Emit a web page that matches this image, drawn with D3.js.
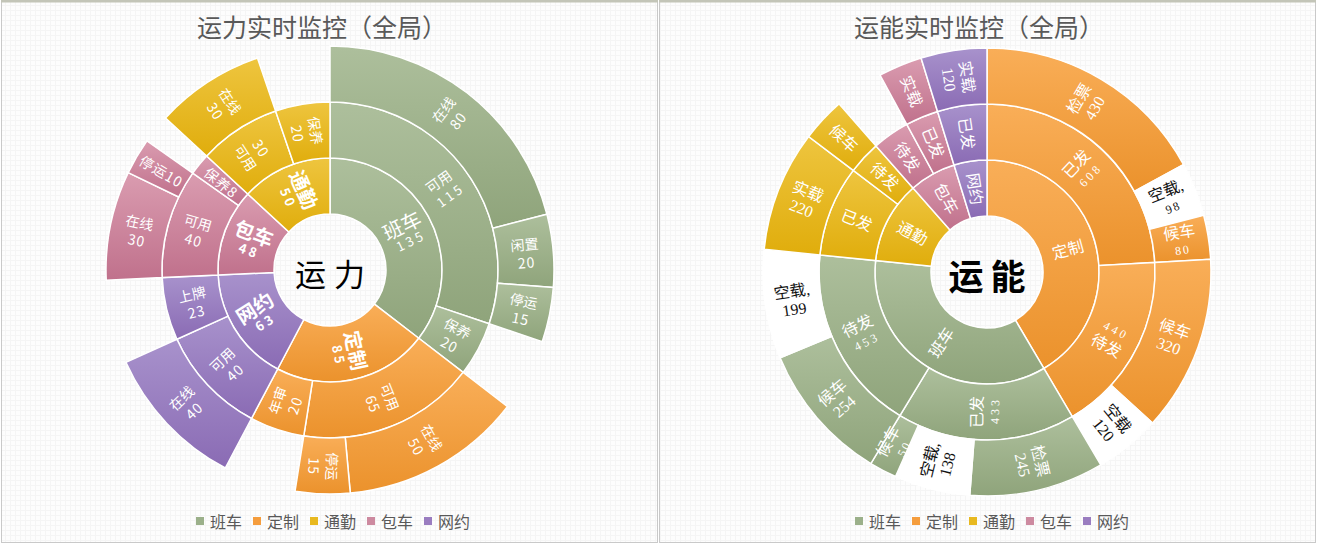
<!DOCTYPE html>
<html>
<head>
<meta charset="utf-8">
<script src="https://cdn.jsdelivr.net/npm/d3@7"></script>
<style>
  body { margin: 0; background: #fff; }
  svg { display: block; }
</style>
</head>
<body>
<div id="chart"></div>
<script>
(function () {

  // legend categories (same for both charts)
  var categories = ["班车", "定制", "通勤", "包车", "网约"];

  // left chart: 运力 - node paths, values and the label text shown on each piece
  var powerIds = [
    "班车", "班车/可用", "班车/可用/在线", "班车/可用/闲置", "班车/可用/停运", "班车/保养",
    "定制", "定制/可用", "定制/可用/在线", "定制/可用/停运", "定制/年审",
    "网约", "网约/可用", "网约/可用/在线", "网约/上牌",
    "包车", "包车/可用", "包车/可用/在线", "包车/可用/停运", "包车/保养",
    "通勤", "通勤/可用", "通勤/可用/在线", "通勤/保养"
  ];
  var powerValues = [
    135, 115, 80, 20, 15, 20,
    85, 65, 50, 15, 20,
    63, 40, 40, 23,
    48, 40, 30, 10, 8,
    50, 30, 30, 20
  ];
  var powerLabels = [
    "班车|135", "可用|115", "在线|80", "闲置|20", "停运|15", "保养|20",
    "定制|85", "可用|65", "在线|50", "停运|15", "年审|20",
    "网约|63", "可用|40", "在线|40", "上牌|23",
    "包车|48", "可用|40", "在线|30", "停运10", "保养8",
    "通勤|50", "30|可用", "在线|30", "保养|20"
  ];

  // right chart: 运能
  var capIds = [
    "定制", "定制/已发", "定制/已发/检票", "定制/已发/空载", "定制/已发/候车",
    "定制/待发", "定制/待发/候车", "定制/待发/空载",
    "班车", "班车/已发", "班车/已发/检票", "班车/已发/空载", "班车/已发/候车",
    "班车/待发", "班车/待发/候车", "班车/待发/空载",
    "通勤", "通勤/已发", "通勤/已发/实载", "通勤/待发", "通勤/待发/候车",
    "包车", "包车/待发", "包车/已发", "包车/已发/实载",
    "网约", "网约/已发", "网约/已发/实载"
  ];
  var capValues = [
    1048, 608, 430, 98, 80,
    440, 320, 120,
    886, 433, 245, 138, 50,
    453, 254, 199,
    300, 220, 220, 80, 80,
    170, 90, 80, 80,
    120, 120, 120
  ];
  var capLabels = [
    "定制", "已发|608", "检票|430", "空载,|98", "候车|80",
    "440|待发", "候车|320", "空载|120",
    "班车", "已发|433", "检票|245", "空载,|138", "候车|50",
    "待发|453", "候车|254", "空载,|199",
    "通勤", "已发", "实载|220", "待发", "候车",
    "包车", "待发", "已发", "实载",
    "网约", "已发", "实载|120"
  ];

  // excel like gradient colours per category (light top, dark bottom, legend)
  var palette = {
    "班车": ["#adbf9c", "#8fa47b", "#9bb08a"],
    "定制": ["#f9ae58", "#eb922c", "#f59d3d"],
    "通勤": ["#eec53f", "#e0ad0c", "#e8b920"],
    "包车": ["#da9cb0", "#c0718c", "#cd8aa0"],
    "网约": ["#a892cc", "#8a6bb4", "#9a7dc0"]
  };

  var w = 1334, h = 546,
    radii = [56, 112, 168, 224],
    svg, defs;

  function createSvg() {
    svg = d3.select("#chart").append("svg")
      .attr("width", w)
      .attr("height", h);
    defs = svg.append("defs");

    // faint grid texture of the excel sheet background
    var pat = defs.append("pattern")
      .attr("id", "grid")
      .attr("width", 5).attr("height", 5)
      .attr("patternUnits", "userSpaceOnUse");
    pat.append("rect").attr("width", 5).attr("height", 5).attr("fill", "#fdfdfd");
    pat.append("path").attr("d", "M0 0.5H5M0.5 0V5")
      .attr("stroke", "#f5f5f5").attr("stroke-width", 1);

    categories.forEach(function (c, i) {
      var g = defs.append("linearGradient")
        .attr("id", "grad" + i)
        .attr("x1", 0).attr("y1", 0).attr("x2", 0).attr("y2", 1);
      g.append("stop").attr("offset", "0%").attr("stop-color", palette[c][0]);
      g.append("stop").attr("offset", "100%").attr("stop-color", palette[c][1]);
    });
  }

  function drawPanel(x0, x1) {
    svg.append("rect")
      .attr("x", x0 + 0.5).attr("y", 1.5)
      .attr("width", x1 - x0).attr("height", 541)
      .attr("fill", "url(#grid)")
      .attr("stroke", "#c9c9c9");
    svg.append("rect")
      .attr("x", x0).attr("y", 0)
      .attr("width", x1 - x0 + 1).attr("height", 2.5)
      .attr("fill", "#c3c5b8");
  }

  function buildTree(ids, values, labels) {
    var rows = ids.map(function (id, i) {
      return { id: id, value: values[i], label: labels[i] };
    });
    rows.unshift({ id: "root", value: 0, label: "" });
    var root = d3.stratify()
      .id(function (d) { return d.id; })
      .parentId(function (d) {
        if (d.id === "root") return null;
        var k = d.id.lastIndexOf("/");
        return k < 0 ? "root" : d.id.slice(0, k);
      })(rows);
    // values are given per node, so take them as they are
    root.each(function (n) { n.value = n.data.value; });
    root.value = d3.sum(root.children, function (c) { return c.value; });
    d3.partition().size([2 * Math.PI, 3])(root);
    return root;
  }

  function topName(n) {
    return n.ancestors().reverse()[1].data.id;
  }

  function drawSunburst(o) {
    var root = buildTree(o.ids, o.values, o.labels);
    var nodes = root.descendants().filter(function (d) { return d.depth > 0; });
    var g = svg.append("g").attr("transform", "translate(" + o.cx + "," + o.cy + ")");

    var arc = d3.arc()
      .startAngle(function (d) { return d.x0; })
      .endAngle(function (d) { return d.x1; })
      .innerRadius(function (d) { return radii[d.depth - 1]; })
      .outerRadius(function (d) { return radii[d.depth]; });

    g.selectAll("path.piece")
      .data(nodes).enter()
      .append("path")
        .attr("class", "piece")
        .attr("d", arc)
        .attr("fill", function (d) {
          if (o.isEmpty(d)) return "#ffffff";
          return "url(#grad" + categories.indexOf(topName(d)) + ")";
        })
        .attr("stroke", "#ffffff")
        .attr("stroke-width", 1.5);

    var labels = g.selectAll("text.lbl")
      .data(nodes).enter()
      .append("text")
        .attr("class", "lbl")
        .attr("text-anchor", "middle")
        .attr("fill", function (d) { return o.isEmpty(d) ? "#111" : "#fff"; })
        .attr("transform", function (d) {
          var a = (d.x0 + d.x1) / 2,
            r = (radii[d.depth - 1] + radii[d.depth]) / 2,
            deg = a * 180 / Math.PI,
            rot = deg < o.flipAt ? deg - 90 : deg - 270;
          return "translate(" + (r * Math.sin(a)) + "," + (-r * Math.cos(a)) + ") rotate(" + rot + ")";
        });

    labels.each(function (d) {
      var lines = d.data.label.split("|"),
        t = d3.select(this);
      lines.forEach(function (line, i) {
        var st = o.lineStyle(d, line);
        t.append("tspan")
          .attr("x", st.spacing / 2)
          .attr("y", (i - (lines.length - 1) / 2) * o.lineHeight)
          .attr("dominant-baseline", "central")
          .style("font-family", o.font)
          .style("font-size", st.size + "px")
          .style("font-weight", st.weight || 400)
          .style("letter-spacing", st.spacing + "px")
          .text(line);
      });
    });

    // centre word
    g.append("text")
      .attr("text-anchor", "middle")
      .attr("dominant-baseline", "central")
      .attr("x", o.centerSpacing / 2)
      .attr("y", 2)
      .style("font-family", "'Noto Sans CJK SC'")
      .style("font-size", o.centerSize + "px")
      .style("font-weight", o.centerWeight)
      .style("letter-spacing", o.centerSpacing + "px")
      .attr("fill", "#000")
      .text(o.center);

    // title
    svg.append("text")
      .attr("x", o.cx - 8)
      .attr("y", 26)
      .attr("text-anchor", "middle")
      .attr("dominant-baseline", "central")
      .style("font-family", "'Noto Sans CJK SC'")
      .style("font-size", "25px")
      .attr("fill", "#595959")
      .text(o.title);

    drawLegend(o.legendX);
  }

  function drawLegend(x0) {
    var lg = svg.append("g").attr("transform", "translate(" + x0 + ",521)");
    var items = lg.selectAll("g.item")
      .data(categories).enter()
      .append("g")
        .attr("class", "item")
        .attr("transform", function (d, i) { return "translate(" + (i * 57) + ",0)"; });
    items.append("rect")
      .attr("x", 0).attr("y", -4)
      .attr("width", 8).attr("height", 8)
      .attr("fill", function (d) { return palette[d][2]; });
    items.append("text")
      .attr("x", 14)
      .attr("y", 0)
      .attr("dominant-baseline", "central")
      .style("font-family", "'Noto Sans CJK SC'")
      .style("font-size", "16px")
      .attr("fill", "#595959")
      .text(function (d) { return d; });
  }

  function isNumber(s) { return /^[0-9]+$/.test(s); }

  createSvg();
  drawPanel(1, 657);
  drawPanel(659, 1315);

  drawSunburst({
    ids: powerIds, values: powerValues, labels: powerLabels,
    cx: 330, cy: 270, flipAt: 185, lineHeight: 18,
    font: "'Noto Sans CJK SC'",
    title: "运力实时监控（全局）", center: "运力",
    centerSize: 31, centerWeight: 400, centerSpacing: 8,
    legendX: 196,
    isEmpty: function () { return false; },
    lineStyle: function (d, line) {
      if (d.depth === 1) {
        if (isNumber(line)) return { size: 13, spacing: 3, weight: d.data.id === "班车" ? 400 : 700 };
        return { size: 20, spacing: 0, weight: d.data.id === "班车" ? 400 : 700 };
      }
      if (isNumber(line)) return { size: line.length > 2 ? 13 : 14, spacing: line.length > 2 ? 3 : 1 };
      return { size: 14, spacing: line.length > 2 ? 1 : 0 };
    }
  });

  drawSunburst({
    ids: capIds, values: capValues, labels: capLabels,
    cx: 987, cy: 272, flipAt: 180, lineHeight: 18,
    font: "'Liberation Serif', 'Noto Sans CJK SC'",
    title: "运能实时监控（全局）", center: "运能",
    centerSize: 35, centerWeight: 700, centerSpacing: 7,
    legendX: 855,
    isEmpty: function (d) { return d.data.id.slice(-2) === "空载"; },
    lineStyle: function (d, line) {
      if (d.depth === 1) return { size: 16, spacing: 0 };
      if (isNumber(line)) {
        if (d.depth === 2) return { size: 12, spacing: 3 };
        return +line < 100 ? { size: 12, spacing: 2 } : { size: 16, spacing: 0 };
      }
      return { size: 16, spacing: 0 };
    }
  });

})();
</script>
</body>
</html>
